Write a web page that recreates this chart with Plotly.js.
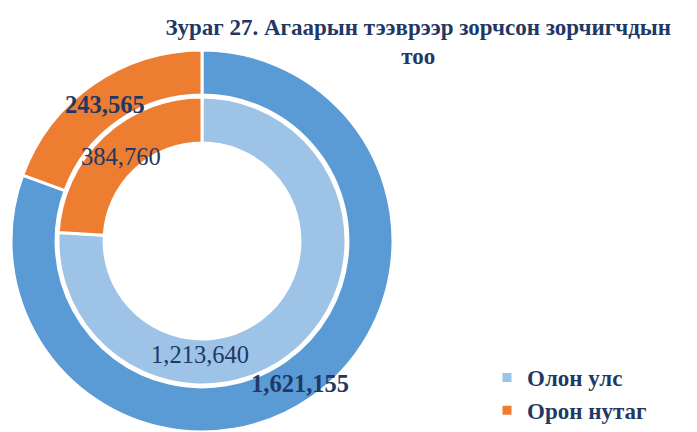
<!DOCTYPE html>
<html>
<head>
<meta charset="utf-8">
<script src="https://cdn.plot.ly/plotly-3.0.1.min.js"></script>
<style>html,body{margin:0;padding:0;background:#fff;}#chart{width:697px;height:432px;}</style>
</head>
<body>
<div id="chart"></div>
<script>
// Categories (legend)
var categories = ['Олон улс', 'Орон нутаг'];
// Inner ring values and labels
var innerValues = [1213640, 384760];
var innerLabels = ['1,213,640', '384,760'];
// Outer ring: slice sizes (orange ≈ 70°), labels as printed
var outerValues = [1621155, 390000];
var outerLabels = ['1,621,155', '243,565'];
var innerColors = ['#9DC3E6', '#ED7D31'];
var outerColors = ['#5B9BD5', '#ED7D31'];

var W = 697, H = 432, T = 50, B = 0;
var PH = H - T - B;
function px(x) { return x / W; }
function py(y) { return (H - y) / PH; }

var inner = {
  type: 'pie', values: innerValues, labels: categories,
  marker: {colors: innerColors, line: {color: '#ffffff', width: 3}},
  hole: 0.68, sort: false, direction: 'clockwise', rotation: 0,
  textinfo: 'none', hoverinfo: 'label+value',
  domain: {x: [px(58), px(346)], y: [py(385), py(97)]}
};
var outer = {
  type: 'pie', values: outerValues, labels: categories,
  marker: {colors: outerColors, line: {color: '#ffffff', width: 3}},
  hole: 0.764, sort: false, direction: 'clockwise', rotation: 0,
  textinfo: 'none', hoverinfo: 'label+value',
  domain: {x: [px(11), px(393)], y: [0, 1]}
};

var lblFont = {family: 'Liberation Serif', size: 24.5, color: '#1F3864'};
var annotations = [
  {text: '<b>' + outerLabels[1] + '</b>', x: px(105), y: py(104)},
  {text: innerLabels[1], x: px(121), y: py(156)},
  {text: innerLabels[0], x: px(199.5), y: py(354)},
  {text: '<b>' + outerLabels[0] + '</b>', x: px(300), y: py(383)}
].map(function (a) {
  return Object.assign({xref: 'paper', yref: 'paper', showarrow: false,
    xanchor: 'center', yanchor: 'middle', font: lblFont}, a);
});

var layout = {
  width: W, height: H,
  margin: {l: 0, r: 0, t: T, b: B},
  paper_bgcolor: '#ffffff',
  title: {
    text: '<b>Зураг 27. Агаарын тээврээр зорчсон зорчигчдын<br>тоо</b>',
    font: {family: 'Liberation Serif', size: 23, color: '#1F3864'},
    x: 0.6, xanchor: 'center', xref: 'paper', yref: 'container', y: 0.92, yanchor: 'top'
  },
  showlegend: true,
  legend: {
    x: px(487), xanchor: 'left', y: 0, yanchor: 'bottom',
    font: {family: 'Liberation Serif', size: 23, color: '#1F3864', weight: 'bold'},
    bgcolor: 'rgba(0,0,0,0)'
  },
  annotations: annotations
};

Plotly.newPlot('chart', [inner, outer], layout, {displayModeBar: false, staticPlot: true});
</script>
</body>
</html>
